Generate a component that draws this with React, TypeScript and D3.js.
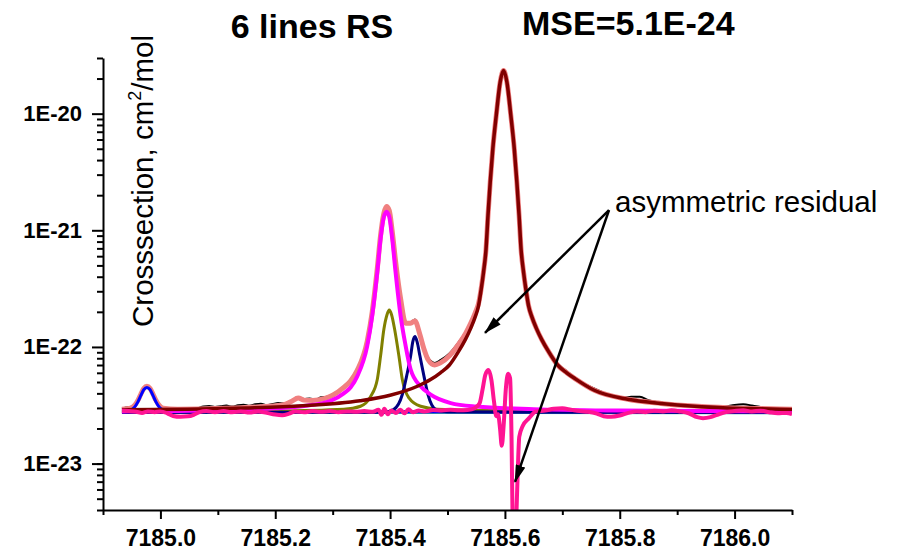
import React, { useEffect, useRef } from 'react'
import * as d3 from 'd3'

type Pt = [number, number]

// axis ticks
const xMajor = [7185.0, 7185.2, 7185.4, 7185.6, 7185.8, 7186.0]
const xMinor = [7184.9, 7185.1, 7185.3, 7185.5, 7185.7, 7185.9, 7186.1]
const yMajor = [1e-23, 1e-22, 1e-21, 1e-20]
const yMajorLabels = ['1E-23', '1E-22', '1E-21', '1E-20']

// measured spectrum (black)
const measured: Pt[] = [
  [7184.933, 2.96e-23], [7184.94, 3.02e-23], [7184.948, 3.06e-23], [7184.955, 3.2e-23],
  [7184.961, 3.55e-23], [7184.966, 4.0e-23], [7184.971, 4.45e-23], [7184.9765, 4.65e-23],
  [7184.982, 4.45e-23], [7184.987, 3.95e-23], [7184.992, 3.5e-23], [7184.998, 3.15e-23],
  [7185.005, 2.98e-23], [7185.015, 2.9e-23], [7185.025, 2.85e-23], [7185.035, 2.83e-23],
  [7185.045, 2.86e-23], [7185.055, 2.9e-23], [7185.065, 2.98e-23], [7185.075, 3.08e-23],
  [7185.085, 3.12e-23], [7185.095, 3.06e-23], [7185.105, 3.1e-23], [7185.115, 3.14e-23],
  [7185.125, 3.08e-23], [7185.135, 3.16e-23], [7185.145, 3.2e-23], [7185.155, 3.13e-23],
  [7185.165, 3.22e-23], [7185.175, 3.26e-23], [7185.185, 3.18e-23], [7185.195, 3.24e-23],
  [7185.205, 3.3e-23], [7185.215, 3.28e-23], [7185.228, 3.45e-23], [7185.24, 3.72e-23],
  [7185.25, 3.58e-23], [7185.26, 3.62e-23], [7185.27, 3.55e-23], [7185.28, 3.7e-23],
  [7185.29, 3.75e-23], [7185.3, 3.92e-23], [7185.31, 4.15e-23], [7185.3194, 4.6e-23],
  [7185.3311, 5.25e-23], [7185.3428, 6.45e-23], [7185.3602, 1.14e-22], [7185.3689, 2.02e-22],
  [7185.3777, 4.8e-22], [7185.3834, 9.1e-22], [7185.3892, 1.42e-21], [7185.3939, 1.62e-21],
  [7185.3986, 1.5e-21], [7185.4038, 9.8e-22], [7185.4096, 5.5e-22], [7185.4183, 2.65e-22],
  [7185.4271, 1.64e-22], [7185.4358, 1.63e-22], [7185.4433, 1.72e-22], [7185.452, 1.3e-22],
  [7185.459, 9.9e-23], [7185.466, 8.1e-23], [7185.4777, 7.3e-23], [7185.4876, 7.7e-23],
  [7185.5034, 8.8e-23], [7185.5196, 1.1e-22], [7185.5313, 1.34e-22], [7185.5406, 1.66e-22],
  [7185.5481, 2.0e-22], [7185.554, 2.4e-22], [7185.5586, 3.2e-22], [7185.5627, 4.4e-22],
  [7185.5671, 6.9e-22], [7185.5705, 1.33e-21], [7185.5744, 2.58e-21], [7185.5789, 4.98e-21],
  [7185.5849, 9.6e-21], [7185.5918, 1.86e-20], [7185.5976, 2.33e-20], [7185.6034, 1.86e-20],
  [7185.6103, 9.6e-21], [7185.6163, 4.98e-21], [7185.6208, 2.58e-21], [7185.6247, 1.33e-21],
  [7185.6281, 6.9e-22], [7185.6325, 4.35e-22], [7185.6366, 3.1e-22], [7185.6412, 2.26e-22],
  [7185.6471, 1.82e-22], [7185.6546, 1.47e-22], [7185.6639, 1.18e-22], [7185.6756, 9.5e-23],
  [7185.6918, 7.2e-23], [7185.7076, 6.2e-23], [7185.72, 5.5e-23], [7185.733, 5.0e-23],
  [7185.745, 4.65e-23], [7185.76, 4.3e-23], [7185.775, 3.98e-23], [7185.79, 3.78e-23],
  [7185.805, 3.68e-23], [7185.82, 3.74e-23], [7185.835, 3.75e-23], [7185.85, 3.5e-23],
  [7185.865, 3.38e-23], [7185.88, 3.3e-23], [7185.895, 3.22e-23], [7185.91, 3.12e-23],
  [7185.925, 3.08e-23], [7185.94, 3.1e-23], [7185.955, 3.05e-23], [7185.97, 3.02e-23],
  [7185.985, 3.08e-23], [7186.0, 3.18e-23], [7186.015, 3.22e-23], [7186.03, 3.15e-23],
  [7186.045, 3.05e-23], [7186.06, 2.95e-23], [7186.075, 2.92e-23], [7186.09, 2.9e-23],
  [7186.1, 2.88e-23]
]

// sum of the 6 lines (salmon)
const totalFit: Pt[] = [
  [7184.933, 2.92e-23], [7184.948, 2.98e-23], [7184.955, 3.15e-23], [7184.961, 3.5e-23],
  [7184.966, 3.95e-23], [7184.971, 4.4e-23], [7184.9765, 4.6e-23], [7184.982, 4.4e-23],
  [7184.987, 3.95e-23], [7184.992, 3.5e-23], [7184.998, 3.15e-23], [7185.005, 2.98e-23],
  [7185.03, 2.93e-23], [7185.08, 2.95e-23], [7185.13, 3.0e-23], [7185.18, 3.08e-23],
  [7185.215, 3.2e-23], [7185.228, 3.4e-23], [7185.24, 3.65e-23], [7185.25, 3.5e-23],
  [7185.265, 3.48e-23], [7185.285, 3.6e-23], [7185.3, 3.85e-23], [7185.3194, 4.5e-23],
  [7185.3311, 5.1e-23], [7185.3428, 6.3e-23], [7185.3602, 1.12e-22], [7185.3689, 2.0e-22],
  [7185.3777, 4.7e-22], [7185.3834, 9.0e-22], [7185.3892, 1.4e-21], [7185.3939, 1.6e-21],
  [7185.3986, 1.48e-21], [7185.4038, 9.7e-22], [7185.4096, 5.4e-22], [7185.4183, 2.6e-22],
  [7185.4271, 1.6e-22], [7185.4358, 1.6e-22], [7185.4433, 1.67e-22], [7185.452, 1.27e-22],
  [7185.459, 9.6e-23], [7185.466, 7.8e-23], [7185.4777, 7.0e-23], [7185.4876, 7.3e-23],
  [7185.5034, 8.4e-23], [7185.5196, 1.06e-22], [7185.5313, 1.3e-22], [7185.5406, 1.6e-22],
  [7185.5481, 1.95e-22], [7185.554, 2.35e-22], [7185.5586, 3.15e-22], [7185.5627, 4.4e-22],
  [7185.5671, 6.9e-22], [7185.5705, 1.335e-21], [7185.5744, 2.59e-21], [7185.5789, 5.0e-21],
  [7185.5849, 9.67e-21], [7185.5918, 1.874e-20], [7185.5976, 2.34e-20], [7185.6034, 1.874e-20],
  [7185.6103, 9.67e-21], [7185.6163, 5.0e-21], [7185.6208, 2.59e-21], [7185.6247, 1.335e-21],
  [7185.6281, 6.9e-22], [7185.6325, 4.36e-22], [7185.6366, 3.1e-22], [7185.6412, 2.25e-22],
  [7185.6471, 1.8e-22], [7185.6546, 1.45e-22], [7185.6639, 1.16e-22], [7185.6756, 9.2e-23],
  [7185.6918, 7.0e-23], [7185.7076, 6.0e-23], [7185.7233, 5.3e-23], [7185.7557, 4.25e-23],
  [7185.8139, 3.56e-23], [7185.872, 3.28e-23], [7185.93, 3.11e-23], [7185.988, 3.01e-23],
  [7186.047, 2.96e-23], [7186.1, 2.92e-23]
]

// strong line at 7185.60 (brown)
const line1: Pt[] = [
  [7184.933, 2.89e-23], [7185.0476, 2.93e-23], [7185.1476, 3.0e-23], [7185.2476, 3.13e-23],
  [7185.3476, 3.45e-23], [7185.4, 3.85e-23], [7185.4476, 4.6e-23], [7185.4719, 5.3e-23],
  [7185.4876, 6.0e-23], [7185.5034, 7.0e-23], [7185.5196, 9.2e-23], [7185.5313, 1.16e-22],
  [7185.5406, 1.45e-22], [7185.5481, 1.8e-22], [7185.554, 2.25e-22], [7185.5586, 3.1e-22],
  [7185.5627, 4.36e-22], [7185.5671, 6.9e-22], [7185.5705, 1.335e-21], [7185.5744, 2.59e-21],
  [7185.5789, 5.0e-21], [7185.5849, 9.67e-21], [7185.5918, 1.874e-20], [7185.5976, 2.34e-20],
  [7185.6034, 1.874e-20], [7185.6103, 9.67e-21], [7185.6163, 5.0e-21], [7185.6208, 2.59e-21],
  [7185.6247, 1.335e-21], [7185.6281, 6.9e-22], [7185.6325, 4.36e-22], [7185.6366, 3.1e-22],
  [7185.6412, 2.25e-22], [7185.6471, 1.8e-22], [7185.6546, 1.45e-22], [7185.6639, 1.16e-22],
  [7185.6756, 9.2e-23], [7185.6918, 7.0e-23], [7185.7076, 6.0e-23], [7185.7233, 5.3e-23],
  [7185.7557, 4.25e-23], [7185.8139, 3.56e-23], [7185.872, 3.28e-23], [7185.93, 3.1e-23],
  [7185.988, 3.0e-23], [7186.047, 2.95e-23], [7186.1, 2.91e-23]
]

// line at 7185.39 (magenta)
const line2: Pt[] = [
  [7184.933, 2.8e-23], [7185.1, 2.86e-23], [7185.2, 2.98e-23], [7185.25, 3.12e-23],
  [7185.2962, 3.45e-23], [7185.3194, 4.0e-23], [7185.3311, 4.5e-23], [7185.3428, 5.6e-23],
  [7185.3602, 1.02e-22], [7185.3689, 1.85e-22], [7185.3777, 4.36e-22], [7185.3834, 8.4e-22],
  [7185.3892, 1.3e-21], [7185.3939, 1.445e-21], [7185.3986, 1.3e-21], [7185.4038, 8.4e-22],
  [7185.4096, 4.36e-22], [7185.4183, 1.85e-22], [7185.4271, 1.02e-22], [7185.4358, 6.4e-23],
  [7185.4532, 4.6e-23], [7185.4707, 3.9e-23], [7185.5056, 3.3e-23], [7185.55, 3.08e-23],
  [7185.65, 2.93e-23], [7185.8, 2.85e-23], [7186.1, 2.8e-23]
]

// line at 7185.40 (olive)
const line3: Pt[] = [
  [7184.933, 2.78e-23], [7185.2, 2.82e-23], [7185.3194, 2.92e-23], [7185.3485, 3.1e-23],
  [7185.366, 3.75e-23], [7185.3777, 5.26e-23], [7185.3834, 8.35e-23], [7185.3892, 1.417e-22],
  [7185.3945, 1.88e-22], [7185.3986, 2.07e-22], [7185.4027, 1.88e-22], [7185.4079, 1.417e-22],
  [7185.4154, 8.35e-23], [7185.4213, 5.26e-23], [7185.4328, 3.66e-23], [7185.4532, 3.1e-23],
  [7185.4824, 2.93e-23], [7185.6, 2.84e-23], [7186.1, 2.78e-23]
]

// line at 7185.44 (navy)
const line4: Pt[] = [
  [7184.933, 2.74e-23], [7185.39, 2.76e-23], [7185.406, 2.9e-23], [7185.4213, 3.91e-23],
  [7185.4288, 5.62e-23], [7185.4358, 8.35e-23], [7185.4396, 1.11e-22], [7185.4433, 1.227e-22],
  [7185.447, 1.11e-22], [7185.452, 8.35e-23], [7185.459, 5.62e-23], [7185.466, 3.91e-23],
  [7185.48, 2.9e-23], [7185.5, 2.78e-23], [7186.1, 2.74e-23]
]

// line at 7184.98 (blue)
const line5: Pt[] = [
  [7184.933, 2.82e-23], [7184.948, 2.88e-23], [7184.955, 3.05e-23], [7184.961, 3.4e-23],
  [7184.966, 3.85e-23], [7184.971, 4.3e-23], [7184.9765, 4.5e-23], [7184.982, 4.3e-23],
  [7184.987, 3.85e-23], [7184.992, 3.4e-23], [7184.998, 3.05e-23], [7185.005, 2.88e-23],
  [7185.02, 2.8e-23], [7186.1, 2.76e-23]
]

// weak line, flat on the baseline (teal)
const line6: Pt[] = [[7184.933, 2.74e-23], [7186.1, 2.72e-23]]

// residual shifted to the baseline (pink)
const residual: Pt[] = [
  [7184.933, 2.85e-23], [7184.945, 2.82e-23], [7184.958, 2.78e-23], [7184.968, 2.72e-23],
  [7184.978, 2.8e-23], [7184.99, 2.76e-23], [7185.0, 2.8e-23], [7185.012, 2.7e-23],
  [7185.022, 2.56e-23], [7185.035, 2.52e-23], [7185.048, 2.54e-23], [7185.058, 2.62e-23],
  [7185.068, 2.76e-23], [7185.08, 2.82e-23], [7185.095, 2.76e-23], [7185.11, 2.82e-23],
  [7185.125, 2.75e-23], [7185.14, 2.8e-23], [7185.155, 2.74e-23], [7185.17, 2.8e-23],
  [7185.185, 2.72e-23], [7185.2, 2.63e-23], [7185.212, 2.6e-23], [7185.224, 2.68e-23],
  [7185.235, 2.8e-23], [7185.25, 2.75e-23], [7185.265, 2.82e-23], [7185.28, 2.78e-23],
  [7185.295, 2.82e-23], [7185.31, 2.76e-23], [7185.325, 2.8e-23], [7185.34, 2.78e-23],
  [7185.355, 2.82e-23], [7185.37, 2.78e-23], [7185.38, 2.9e-23], [7185.385, 2.62e-23],
  [7185.39, 2.95e-23], [7185.396, 2.65e-23], [7185.402, 2.85e-23], [7185.41, 2.72e-23],
  [7185.418, 2.9e-23], [7185.425, 2.7e-23], [7185.432, 2.92e-23], [7185.44, 2.75e-23],
  [7185.45, 2.85e-23], [7185.46, 2.8e-23], [7185.475, 2.88e-23], [7185.49, 2.85e-23],
  [7185.505, 2.9e-23], [7185.52, 2.86e-23], [7185.535, 2.88e-23], [7185.548, 3.0e-23],
  [7185.556, 3.3e-23], [7185.561, 4.3e-23], [7185.566, 5.8e-23], [7185.5715, 6.35e-23],
  [7185.5765, 5.2e-23], [7185.581, 3.4e-23], [7185.585, 2.55e-23], [7185.588, 2.65e-23],
  [7185.5915, 2.0e-23], [7185.5945, 1.42e-23], [7185.598, 2.2e-23], [7185.6015, 4.3e-23],
  [7185.6055, 5.9e-23], [7185.609, 5.4e-23], [7185.6115, 1.7e-23], [7185.6135, 3e-24],
  [7185.6165, 1.2e-24], [7185.6195, 3e-24], [7185.6225, 9e-24], [7185.625, 1.7e-23],
  [7185.631, 2.1e-23], [7185.642, 2.45e-23], [7185.654, 2.8e-23], [7185.67, 2.85e-23],
  [7185.685, 2.95e-23], [7185.7, 2.98e-23], [7185.715, 2.9e-23], [7185.73, 2.82e-23],
  [7185.745, 2.78e-23], [7185.76, 2.68e-23], [7185.772, 2.55e-23], [7185.785, 2.52e-23],
  [7185.8, 2.58e-23], [7185.815, 2.72e-23], [7185.83, 2.8e-23], [7185.845, 2.76e-23],
  [7185.86, 2.84e-23], [7185.875, 2.8e-23], [7185.89, 2.86e-23], [7185.905, 2.8e-23],
  [7185.92, 2.7e-23], [7185.935, 2.5e-23], [7185.945, 2.45e-23], [7185.958, 2.5e-23],
  [7185.97, 2.62e-23], [7185.985, 2.76e-23], [7186.0, 2.82e-23], [7186.015, 2.86e-23],
  [7186.03, 2.8e-23], [7186.045, 2.84e-23], [7186.06, 2.76e-23], [7186.075, 2.7e-23],
  [7186.09, 2.72e-23], [7186.1, 2.66e-23]
]

// annotation: arrow apex and the two arrow tips
const arrowFrom: Pt = [7185.7813, 1.49e-21]
const arrowTips: Pt[] = [[7185.5653, 1.32e-22], [7185.6176, 6.96e-24]]

const FONT = 'Liberation Sans, Arial, sans-serif'

export default function App() {
  const ref = useRef<SVGSVGElement>(null)

  useEffect(() => {
    var width = 899,
      height = 554
    var margin = { top: 58, right: 107, bottom: 44, left: 103 }

    var svg = d3.select(ref.current)
    svg.selectAll('*').remove()

    // scales
    var x = d3.scaleLinear()
      .domain([7184.9, 7186.1])
      .range([margin.left, width - margin.right])
    var y = d3.scaleLog()
      .domain([4e-24, 3e-20])
      .range([height - margin.bottom, margin.top])

    svg.append('clipPath').attr('id', 'plotClip')
      .append('rect')
      .attr('x', margin.left)
      .attr('y', margin.top - 20)
      .attr('width', width - margin.left - margin.right)
      .attr('height', height - margin.top - margin.bottom + 20)

    var line = d3.line<Pt>()
      .x(d => x(d[0]))
      .y(d => y(Math.max(d[1], 1e-26)))
      .curve(d3.curveMonotoneX)

    var plot = svg.append('g').attr('clip-path', 'url(#plotClip)')

    // draw order follows the original plot
    var series: [Pt[], string, number][] = [
      [line6, '#2b8c9a', 2.5],
      [measured, '#000000', 2],
      [totalFit, '#f08080', 5],
      [line5, '#0000ff', 3],
      [line3, '#808000', 3],
      [line4, '#000080', 3],
      [line2, '#ff00ff', 4],
      [line1, '#800000', 3.5],
      [residual, '#ff1493', 4]
    ]
    series.forEach(s => {
      plot.append('path')
        .datum(s[0])
        .attr('fill', 'none')
        .attr('stroke', s[1])
        .attr('stroke-width', s[2])
        .attr('stroke-linejoin', 'round')
        .attr('d', line)
    })

    // x axis, major + minor
    var xAxis = svg.append('g')
      .attr('transform', 'translate(0,' + (height - margin.bottom) + ')')
      .call(d3.axisBottom(x).tickValues(xMajor).tickFormat(d3.format('.1f')).tickSize(9).tickPadding(11).tickSizeOuter(0))
    svg.append('g')
      .attr('transform', 'translate(0,' + (height - margin.bottom) + ')')
      .call(d3.axisBottom(x).tickValues(xMinor).tickFormat(() => '').tickSize(5).tickSizeOuter(0))
      .select('.domain').remove()

    // y axis, decades + log minor ticks
    var yAxis = svg.append('g')
      .attr('transform', 'translate(' + margin.left + ',0)')
      .call(d3.axisLeft(y).tickValues(yMajor).tickFormat((d, i) => yMajorLabels[i]).tickSize(11).tickPadding(10).tickSizeOuter(0))
    var yMinor = y.ticks().filter(v => yMajor.indexOf(v) < 0)
    svg.append('g')
      .attr('transform', 'translate(' + margin.left + ',0)')
      .call(d3.axisLeft(y).tickValues(yMinor).tickFormat(() => '').tickSize(6).tickSizeOuter(0))
      .select('.domain').remove()

    svg.selectAll('.domain, .tick line')
      .attr('stroke', '#000')
      .attr('stroke-width', 2)
    ;[xAxis, yAxis].forEach(a => {
      a.selectAll('text')
        .attr('fill', '#000')
        .style('font-family', FONT)
        .style('font-weight', 'bold')
        .style('font-size', '22px')
    })
    xAxis.selectAll('text').style('font-size', '23px')

    // y label
    var yLabel = svg.append('text')
      .attr('transform', 'translate(153,181) rotate(-90)')
      .attr('text-anchor', 'middle')
      .style('font-family', FONT)
      .style('font-size', '29.5px')
    yLabel.append('tspan').text('Crosssection, cm')
    yLabel.append('tspan').attr('dy', -12).style('font-size', '18px').text('2')
    yLabel.append('tspan').attr('dy', 12).text('/mol')

    // titles
    svg.append('text')
      .attr('x', 312).attr('y', 38)
      .attr('text-anchor', 'middle')
      .style('font-family', FONT).style('font-weight', 'bold').style('font-size', '34px')
      .text('6 lines RS')
    svg.append('text')
      .attr('x', 522).attr('y', 35)
      .style('font-family', FONT).style('font-weight', 'bold').style('font-size', '34px')
      .text('MSE=5.1E-24')

    // arrows to the residual
    var defs = svg.append('defs')
    defs.append('marker')
      .attr('id', 'arrowHead')
      .attr('viewBox', '0 0 18 10')
      .attr('refX', 17).attr('refY', 5)
      .attr('markerWidth', 18).attr('markerHeight', 10)
      .attr('markerUnits', 'userSpaceOnUse')
      .attr('orient', 'auto')
      .append('path').attr('d', 'M0,0L18,5L0,10Z').attr('fill', '#000')
    arrowTips.forEach(t => {
      svg.append('line')
        .attr('x1', x(arrowFrom[0])).attr('y1', y(arrowFrom[1]))
        .attr('x2', x(t[0])).attr('y2', y(t[1]))
        .attr('stroke', '#000').attr('stroke-width', 2.5)
        .attr('marker-end', 'url(#arrowHead)')
    })
    svg.append('text')
      .attr('x', x(arrowFrom[0]) + 6).attr('y', y(arrowFrom[1]) + 2)
      .style('font-family', FONT).style('font-size', '29.5px')
      .text('asymmetric residual')
  }, [])

  return (
    <svg ref={ref} width={899} height={554}
      style={{ position: 'absolute', left: 0, top: 0, background: '#fff' }} />
  )
}
